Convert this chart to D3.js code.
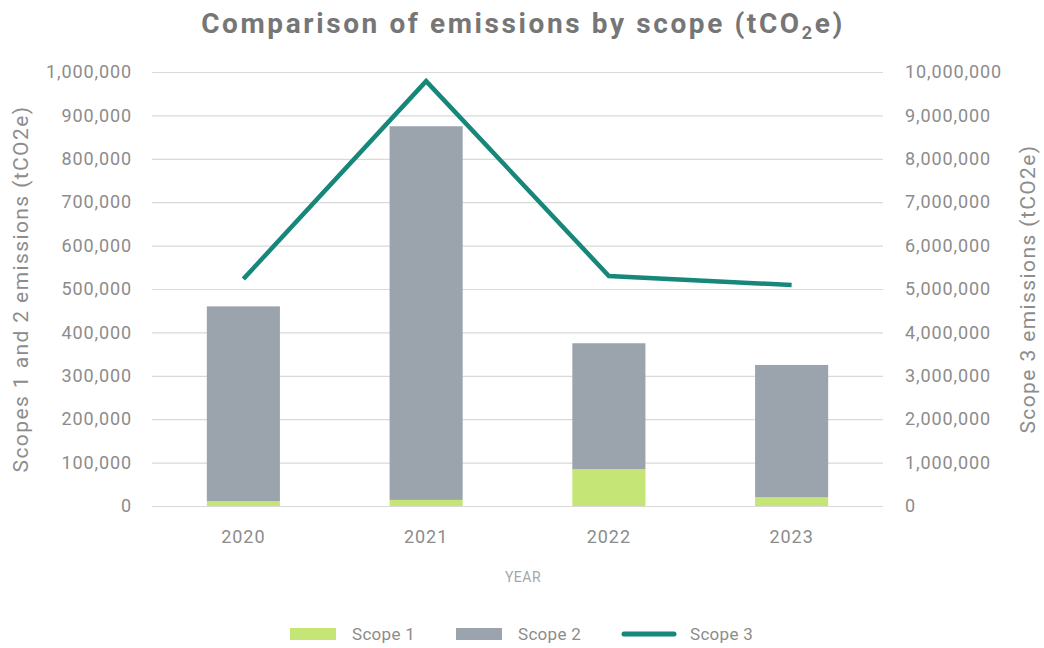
<!DOCTYPE html>
<html><head><meta charset="utf-8">
<script src="https://cdn.jsdelivr.net/npm/d3@7"></script>
<style>body{margin:0;background:#fff;} svg{display:block;}</style>
</head><body>
<svg id="c" width="1044" height="648"></svg>
<script>
const years = ["2020","2021","2022","2023"];
const scope1 = [11000, 14000, 85000, 20000];
const scope2 = [449000, 861000, 290000, 305000];
const scope3 = [5230000, 9790000, 5300000, 5090000];
const leftTicks = [0,100000,200000,300000,400000,500000,600000,700000,800000,900000,1000000];
const rightTicks = [0,1000000,2000000,3000000,4000000,5000000,6000000,7000000,8000000,9000000,10000000];

const svg = d3.select("#c");
const font = "Roboto, 'DejaVu Sans', sans-serif";
const m = {l:152, r:883, t:72, b:506};
const x = d3.scaleBand().domain(years).range([m.l, m.r]).paddingInner(0.6).paddingOuter(0.3);
const yL = d3.scaleLinear().domain([0,1000000]).range([m.b, m.t]);
const yR = d3.scaleLinear().domain([0,10000000]).range([m.b, m.t]);
const fmt = d3.format(",");

// gridlines
svg.append("g").selectAll("line").data(leftTicks).join("line")
  .attr("x1", m.l).attr("x2", m.r)
  .attr("y1", d=>yL(d)+0.5).attr("y2", d=>yL(d)+0.5)
  .attr("stroke", "#d9d9d9").attr("stroke-width", 1.2);

// left axis
const gl = svg.append("g").attr("transform", `translate(${m.l},0)`)
  .call(d3.axisLeft(yL).tickValues(leftTicks).tickFormat(fmt).tickSize(0).tickPadding(20));
gl.select(".domain").remove();
gl.selectAll("text").attr("fill","#8c8c8c").style("font-family",font).style("font-size","18px").style("letter-spacing","0.9px");

const gr = svg.append("g").attr("transform", `translate(${m.r},0)`)
  .call(d3.axisRight(yR).tickValues(rightTicks).tickFormat(fmt).tickSize(0).tickPadding(22));
gr.select(".domain").remove();
gr.selectAll("text").attr("fill","#8c8c8c").style("font-family",font).style("font-size","18px").style("letter-spacing","0.9px");

// bars
const stackData = years.map((y,i)=>({year:y, s1:scope1[i], s2:scope2[i]}));
const stack = d3.stack().keys(["s1","s2"])(stackData);
const colors = {s1:"#c5e576", s2:"#9ba4ad"};
svg.append("g").selectAll("g").data(stack).join("g").attr("fill", d=>colors[d.key])
  .selectAll("rect").data(d=>d).join("rect")
  .attr("x", d=>x(d.data.year)).attr("width", x.bandwidth())
  .attr("y", d=>yL(d[1])).attr("height", d=>yL(d[0])-yL(d[1]));

// line
const line = d3.line().x((d,i)=>x(years[i])+x.bandwidth()/2).y(d=>yR(d));
svg.append("path").datum(scope3).attr("d", line).attr("fill","none")
  .attr("stroke","#17877a").attr("stroke-width",4.5).attr("stroke-linejoin","miter");

// x axis
const gx = svg.append("g").attr("transform", `translate(0,${m.b})`)
  .call(d3.axisBottom(x).tickSize(0).tickPadding(24));
gx.select(".domain").remove();
gx.selectAll("text").attr("fill","#8c8c8c").style("font-family",font).style("font-size","18px").style("letter-spacing","1px");

// titles
svg.append("text").attr("x",523).attr("y",33).attr("text-anchor","middle")
  .attr("fill","#767676").style("font-family",font).style("font-weight","bold").style("font-size","28px")
  .style("letter-spacing","2.6px")
  .html('Comparison of emissions by scope (tCO<tspan font-size="18px" dy="6">2</tspan><tspan dy="-6">e)</tspan>');

svg.append("text").attr("x",523).attr("y",582).attr("text-anchor","middle")
  .attr("fill","#a6a6a6").style("font-family",font).style("font-size","14px").style("letter-spacing","0.5px").text("YEAR");

svg.append("text").attr("transform","translate(28,289) rotate(-90)").attr("text-anchor","middle")
  .attr("fill","#8c8c8c").style("font-family",font).style("font-size","21px").style("letter-spacing","1.4px").text("Scopes 1 and 2 emissions (tCO2e)");
svg.append("text").attr("transform","translate(1035,289) rotate(-90)").attr("text-anchor","middle")
  .attr("fill","#8c8c8c").style("font-family",font).style("font-size","21px").style("letter-spacing","1.4px").text("Scope 3 emissions (tCO2e)");

// legend
const leg = [{name:"Scope 1", type:"rect", c:"#c5e576", x:290},
             {name:"Scope 2", type:"rect", c:"#9ba4ad", x:456},
             {name:"Scope 3", type:"line", c:"#17877a", x:622}];
const lg = svg.append("g");
leg.forEach(d=>{
  if(d.type==="rect") lg.append("rect").attr("x",d.x).attr("y",628).attr("width",46).attr("height",12).attr("fill",d.c);
  else lg.append("line").attr("x1",d.x+2).attr("x2",d.x+52).attr("y1",634).attr("y2",634).attr("stroke",d.c).attr("stroke-width",5).attr("stroke-linecap","round");
  lg.append("text").attr("x", d.x + (d.type==="rect"?62:68)).attr("y",640).attr("fill","#8c8c8c")
    .style("font-family",font).style("font-size","17px").style("letter-spacing","0.3px").text(d.name);
});
</script>
</body></html>
